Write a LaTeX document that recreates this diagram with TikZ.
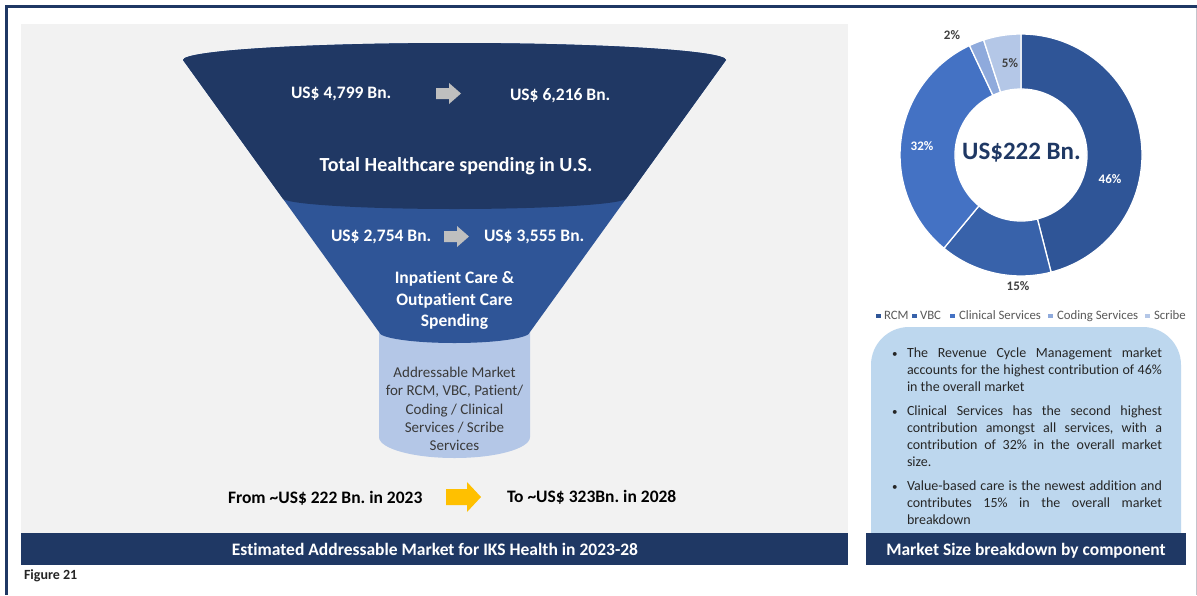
\documentclass[tikz,border=0pt]{standalone}
\usepackage{fontspec}
\setmainfont{Carlito}[Ligatures={NoCommon}]
\frenchspacing
\usetikzlibrary{calc}
\definecolor{navy}{HTML}{1F3864}
\definecolor{fundark}{HTML}{203864}
\definecolor{funmid}{HTML}{2F5597}
\definecolor{cylblue}{HTML}{B4C7E7}
\definecolor{panelgray}{HTML}{F2F2F2}
\definecolor{arrowgray}{HTML}{BFBFBF}
\definecolor{arrowyellow}{HTML}{FFC000}
\definecolor{boxblue}{HTML}{BDD7EE}
\definecolor{framegray}{HTML}{C4C4CC}
\definecolor{rcm}{HTML}{2F5597}
\definecolor{vbc}{HTML}{3862AA}
\definecolor{clin}{HTML}{4472C4}
\definecolor{cod}{HTML}{8FAADC}
\definecolor{scr}{HTML}{B4C7E7}
\definecolor{cyltext}{HTML}{3A3A3A}
\definecolor{bultext}{HTML}{262626}
\definecolor{legtext}{HTML}{595959}
\definecolor{pctdark}{HTML}{404040}
\begin{document}
\frenchspacing
\begin{tikzpicture}[x=1pt,y=1pt]
\tikzset{
  txt/.style={inner sep=0pt,outer sep=0pt},
  wb/.style={txt,text=white,font=\frenchspacing\bfseries\fontsize{17.5}{21}\selectfont},
  cyl/.style={txt,text=cyltext,font=\fontsize{15}{18}\selectfont},
  blk/.style={txt,text=black,font=\frenchspacing\bfseries\fontsize{17.5}{21}\selectfont},
  bul/.style={txt,text=bultext,font=\frenchspacing\fontsize{14}{17}\selectfont,anchor=base west},
  dot/.style={txt,text=bultext,font=\fontsize{11}{13}\selectfont,anchor=base west},
  leg/.style={txt,text=legtext,font=\fontsize{12.8}{15}\selectfont,anchor=base west},
  pct/.style={txt,font=\bfseries\fontsize{13}{15}\selectfont,anchor=base},
  bar/.style={fill=navy},
}
\useasboundingbox (0,0) rectangle (1197,-595);
\fill[white] (0,0) rectangle (1197,-595);
% frame
\fill[navy] (5,-5) rectangle (1197,-8);
\fill[navy] (5,-5) rectangle (8,-595);
\draw[framegray,line width=0.8pt] (1196,-8) -- (1196,-595);

% left panel
\fill[panelgray] (21,-24) rectangle (848,-533);
\fill[bar] (21,-533) rectangle (848,-565);
\node[txt,text=white,font=\bfseries\fontsize{17.5}{21}\selectfont,anchor=base] (lbar) at (435,-555) {Estimated Addressable Market for IKS Health in 2023-28};
\node[txt,text=bultext,font=\bfseries\fontsize{14}{17}\selectfont,anchor=base west] (fig) at (24,-579) {Figure 21};

% funnel
\fill[cylblue] (379,-320) -- (379,-437) arc[start angle=180,end angle=360,x radius=75.5,y radius=21] -- (530,-320) -- cycle;
\fill[funmid] (183,-60) arc[start angle=180,end angle=0,x radius=271.5,y radius=17] -- (530,-332) arc[start angle=0,end angle=-180,x radius=75.5,y radius=11] -- cycle;
\fill[fundark] (183,-60) arc[start angle=180,end angle=0,x radius=271.5,y radius=17] -- (626.6,-198) arc[start angle=0,end angle=-180,x radius=172.1,y radius=11] -- cycle;

% funnel texts
\node[wb,anchor=base west] (t1a) at (291,-98.5) {US\$ 4,799 Bn.};
\fill[arrowgray] (436,-88) -- (449,-88) -- (449,-83) -- (461,-93.5) -- (449,-104) -- (449,-99) -- (436,-99) -- cycle;
\node[wb,anchor=base west] (t1b) at (510,-100) {US\$ 6,216 Bn.};
\node[txt,text=white,font=\bfseries\fontsize{20}{24}\selectfont,anchor=base] (t1) at (456,-171) {Total Healthcare spending in U.S.};
\node[wb,anchor=base west] (t2a) at (331,-241.5) {US\$ 2,754 Bn.};
\fill[arrowgray] (444,-231) -- (457,-231) -- (457,-226) -- (469,-236.5) -- (457,-247) -- (457,-242) -- (444,-242) -- cycle;
\node[wb,anchor=base west] (t2b) at (484,-241) {US\$ 3,555 Bn.};
\node[wb,anchor=base] (t2l1) at (454.5,-283.5) {Inpatient Care \&};
\node[wb,anchor=base] (t2l2) at (454.5,-305) {Outpatient Care};
\node[wb,anchor=base] (t2l3) at (454.5,-326) {Spending};

% cylinder text
\node[cyl,anchor=base] (c1) at (454.5,-377) {Addressable Market};
\node[cyl,anchor=base] (c2) at (454.5,-395.5) {for RCM, VBC, Patient/};
\node[cyl,anchor=base] (c3) at (454.5,-414) {Coding / Clinical};
\node[cyl,anchor=base] (c4) at (454.5,-432.5) {Services / Scribe};
\node[cyl,anchor=base] (c5) at (454.5,-450.5) {Services};

% bottom growth
\node[blk,anchor=base west] (from) at (228,-503) {From \textasciitilde US\$ 222 Bn. in 2023};
\fill[arrowyellow] (446,-489) -- (467,-489) -- (467,-482) -- (481,-497) -- (467,-512) -- (467,-505) -- (446,-505) -- cycle;
\node[blk,anchor=base west] (to) at (507,-502.5) {To \textasciitilde US\$ 323Bn. in 2028};

% donut
\coordinate (dc) at (1021,-155);
\foreach \a/\b/\c in {90/-75.6/rcm, -75.6/-129.6/vbc, -129.6/-244.8/clin, -244.8/-252/cod, -252/-270/scr}
  \filldraw[fill=\c,draw=white,line width=1.3pt] ([shift={(\a:121)}]dc) arc[start angle=\a,end angle=\b,radius=121] -- ([shift={(\b:66)}]dc) arc[start angle=\b,end angle=\a,radius=66] -- cycle;
\node[txt,text=navy,font=\bfseries\fontsize{25}{30}\selectfont,anchor=base] (dtot) at (1021.5,-159) {US\$222 Bn.};
\node[pct,text=white] (p46) at (1110,-183) {46\%};
\node[pct,text=pctdark] (p15) at (1018,-290) {15\%};
\node[pct,text=white] (p32) at (922,-150) {32\%};
\node[pct,text=pctdark] (p2) at (952,-39) {2\%};
\node[pct,text=pctdark] (p5) at (1010,-67) {5\%};

% legend
\fill[rcm] (876,-314) rectangle (881,-318);
\node[leg] (l1) at (884,-319) {RCM};
\fill[vbc] (912,-314) rectangle (917,-318);
\node[leg] (l2) at (920,-319) {VBC};
\fill[clin] (950,-314) rectangle (955,-318);
\node[leg] (l3) at (959,-319) {Clinical Services};
\fill[cod] (1048,-314) rectangle (1053,-318);
\node[leg] (l4) at (1057,-319) {Coding Services};
\fill[scr] (1145,-314) rectangle (1150,-318);
\node[leg] (l5) at (1154,-319) {Scribe};

% bullet box
\fill[boxblue] (871,-533) -- (871,-365) arc[start angle=180,end angle=90,radius=38] -- (1143,-327) arc[start angle=90,end angle=0,radius=38] -- (1181,-533) -- cycle;
\node[dot] (b1) at (892,-357) {•};
\node[bul] (b1a) at (907,-357) {\makebox[255pt][s]{The Revenue Cycle Management market}};
\node[bul] (b1b) at (907,-374) {\makebox[255pt][s]{accounts for the highest contribution of 46\%}};
\node[bul] (b1c) at (907,-391) {in the overall market};
\node[dot] (b2) at (892,-415) {•};
\node[bul] (b2a) at (907,-415) {\makebox[255pt][s]{Clinical Services has the second highest}};
\node[bul] (b2b) at (907,-432) {\makebox[255pt][s]{contribution amongst all services, with a}};
\node[bul] (b2c) at (907,-449) {\makebox[255pt][s]{contribution of 32\% in the overall market}};
\node[bul] (b2d) at (907,-466) {size.};
\node[dot] (b3) at (892,-490) {•};
\node[bul] (b3a) at (907,-490) {\makebox[255pt][s]{Value-based care is the newest addition and}};
\node[bul] (b3b) at (907,-507) {\makebox[255pt][s]{contributes 15\% in the overall market}};
\node[bul] (b3c) at (907,-524) {breakdown};

\fill[bar] (866,-533) rectangle (1186,-565);
\node[txt,text=white,font=\bfseries\fontsize{17.5}{21}\selectfont,anchor=base] (rbar) at (1026,-555) {Market Size breakdown by component};
\end{tikzpicture}
\end{document}
